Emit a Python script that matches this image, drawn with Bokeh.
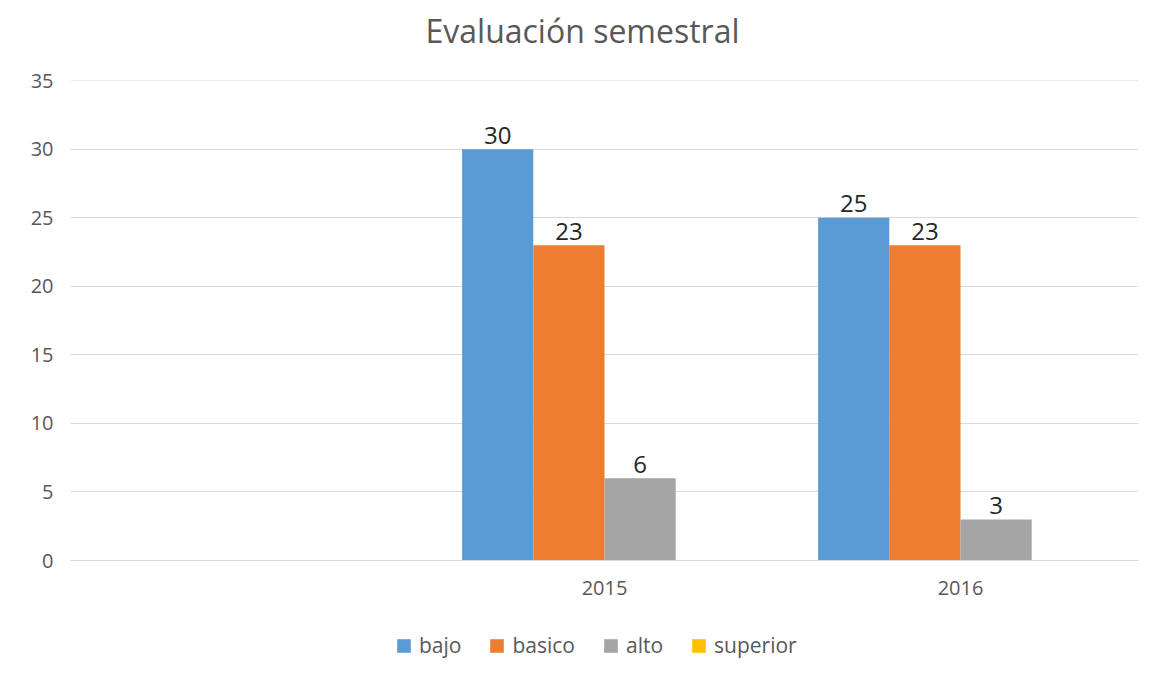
from bokeh.plotting import figure
from bokeh.models import ColumnDataSource, FactorRange, Range1d, FixedTicker, Legend, LegendItem, Label
from bokeh.layouts import column
from bokeh.transform import dodge
from bokeh.core.properties import value
from bokeh.embed import file_html
from bokeh.resources import INLINE

NAN = float("nan")

# ---- data ----
title_text = "Evaluación semestral"
years = ["", "2015", "2016"]
series = ["bajo", "basico", "alto", "superior"]
bajo = [NAN, 30, 25]
basico = [NAN, 23, 23]
alto = [NAN, 6, 3]
superior = [NAN, NAN, NAN]
y_ticks = [0, 5, 10, 15, 20, 25, 30, 35]

colors = ["#5B9BD5", "#ED7D31", "#A5A5A5", "#FFC000"]
offsets = [-0.3, -0.1, 0.1, 0.3]
bar_w = 0.2
FONT = "Open Sans"
GRAY = "#595959"
BL, BR = 70, 21


def blank(h):
    f = figure(width=1159, height=h, x_range=Range1d(0, 1), y_range=Range1d(0, 1),
               output_backend="svg", toolbar_location=None,
               min_border_left=BL, min_border_right=BR, min_border_top=0, min_border_bottom=0)
    f.axis.visible = False
    f.grid.grid_line_color = None
    f.outline_line_color = None
    f.border_fill_color = "white"
    return f


# ---- title ----
tf = blank(64)
tf.add_layout(Label(x=355, y=34, x_units="screen", y_units="screen", text=title_text,
                    text_font=FONT, text_font_size="32px", text_color=GRAY,
                    text_baseline="alphabetic", text_align="left"))

# ---- main chart ----
src = ColumnDataSource(dict(x=years, bajo=bajo, basico=basico, alto=alto, superior=superior))

p = figure(width=1159, height=541, x_range=FactorRange(factors=years),
           y_range=Range1d(0, 35.02), output_backend="svg", toolbar_location=None,
           min_border_left=BL, min_border_right=BR, min_border_top=16, min_border_bottom=45)

p.outline_line_color = None
p.background_fill_color = "white"
p.border_fill_color = "white"

p.xgrid.grid_line_color = None
p.ygrid.grid_line_color = "#D9D9D9"
p.ygrid.grid_line_width = 1
p.yaxis.ticker = FixedTicker(ticks=y_ticks)

p.yaxis.axis_line_color = None
p.yaxis.major_tick_line_color = None
p.yaxis.minor_tick_line_color = None
p.yaxis.major_label_text_font = FONT
p.yaxis.major_label_text_font_size = "20px"
p.yaxis.major_label_text_color = GRAY
p.yaxis.major_label_standoff = 11

p.xaxis.axis_line_color = "#D9D9D9"
p.xaxis.major_tick_line_color = None
p.xaxis.minor_tick_line_color = None
p.xaxis.major_label_text_font = FONT
p.xaxis.major_label_text_font_size = "20px"
p.xaxis.major_label_text_color = GRAY
p.xaxis.major_label_standoff = 14

# ---- legend strip ----
lg = blank(75)
dsrc = ColumnDataSource(dict(x=[NAN], top=[NAN]))

items = []
for name, col, off in zip(series, colors, offsets):
    p.vbar(x=dodge("x", off, range=p.x_range), top=name, width=bar_w, source=src,
           fill_color=col, line_color=None)
    dummy = lg.vbar(x="x", top="top", width=0.1, source=dsrc, fill_color=col, line_color=None)
    items.append(LegendItem(label=name, renderers=[dummy]))
    lx, ly, lt = [], [], []
    for yr, v in zip(years, src.data[name]):
        if v == v:
            lx.append(yr); ly.append(v); lt.append(str(v))
    lsrc = ColumnDataSource(dict(x=lx, y=ly, t=lt))
    p.text(x=dodge("x", off, range=p.x_range), y="y", text="t", source=lsrc,
           text_align="center", text_baseline="alphabetic", y_offset=-14,
           text_font=value(FONT), text_font_size="24px", text_color="#262626")

legend = Legend(items=items, orientation="horizontal", location=(325, 21),
                label_text_font=FONT, label_text_font_size="21px", label_text_color=GRAY,
                glyph_width=17, glyph_height=17, label_standoff=7, spacing=27,
                border_line_color=None, background_fill_alpha=0, margin=0, padding=0)
lg.add_layout(legend, "center")

layout = column(tf, p, lg, spacing=0)
open("out.html", "w").write(file_html(layout, INLINE))
